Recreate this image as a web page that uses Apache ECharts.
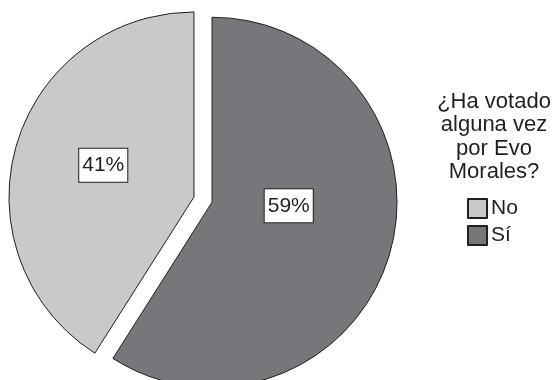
<!DOCTYPE html>
<html>
<head>
<meta charset="utf-8">
<script src="https://cdn.jsdelivr.net/npm/echarts@6/dist/echarts.min.js"></script>
<style>
  html, body { margin: 0; padding: 0; background: #ffffff; }
  #chart { width: 555px; height: 380px; }
</style>
</head>
<body>
<div id="chart"></div>
<script>
// Answers to the survey question, in drawing order (clockwise from 12 o'clock)
const categories = ['Sí', 'No'];
const shares = [59, 41];
const legendOrder = ['No', 'Sí'];
const questionLines = ['¿Ha votado', 'alguna vez', 'por Evo', 'Morales?'];

const sliceColors = { 'Sí': '#76777a', 'No': '#c8c9cb' };
const ink = '#231f20';
const fontFamily = '"Liberation Sans", Arial, Helvetica, sans-serif';

// small nudges of the value boxes away from the default inside spot
const labelNudge = { 'Sí': [-15, -23], 'No': [1, -5] };

const chart = echarts.init(document.getElementById('chart'), null, { renderer: 'canvas' });

const option = {
  backgroundColor: '#ffffff',
  animation: false,
  title: {
    text: questionLines.join('\n'),
    left: 494,
    top: 90,
    textAlign: 'center',
    padding: 0,
    textStyle: {
      color: ink,
      fontFamily: fontFamily,
      fontWeight: 'normal',
      fontSize: 22,
      lineHeight: 23.5
    }
  },
  legend: {
    data: legendOrder,
    orient: 'vertical',
    left: 467,
    top: 198,
    padding: 0,
    itemWidth: 19,
    itemHeight: 19,
    itemGap: 6,
    icon: 'rect',
    selectedMode: false,
    textStyle: {
      color: ink,
      fontFamily: fontFamily,
      fontSize: 21,
      padding: [0, 0, 0, -1]
    }
  },
  series: [{
    type: 'pie',
    center: [203, 199.6],
    radius: 185,
    startAngle: 90,
    clockwise: true,
    selectedMode: 'multiple',
    selectedOffset: 9.4,
    emphasis: { disabled: true },
    itemStyle: {
      borderColor: ink,
      borderWidth: 1
    },
    select: {
      itemStyle: { borderColor: ink, borderWidth: 1 },
      label: { color: ink }
    },
    label: {
      show: true,
      position: 'inside',
      formatter: '{c}%',
      color: ink,
      fontFamily: fontFamily,
      fontSize: 21,
      lineHeight: 21,
      backgroundColor: '#ffffff',
      borderColor: ink,
      borderWidth: 1,
      padding: [7, 3, 5, 3]
    },
    labelLine: { show: false },
    labelLayout: function (params) {
      const name = categories[params.dataIndex];
      const n = labelNudge[name];
      return { dx: n[0], dy: n[1] };
    },
    data: categories.map(function (name, i) {
      return {
        name: name,
        value: shares[i],
        selected: true,
        itemStyle: { color: sliceColors[name] },
        select: { itemStyle: { color: sliceColors[name] } }
      };
    })
  }]
};

chart.setOption(option);
</script>
</body>
</html>
